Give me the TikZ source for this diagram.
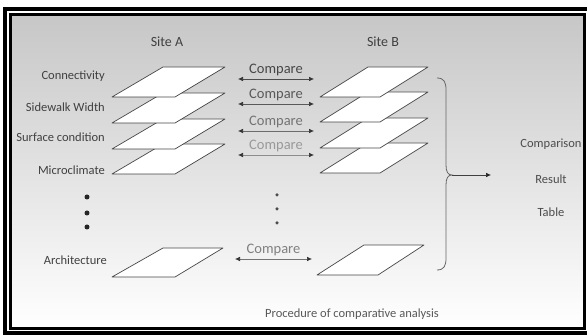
\documentclass[tikz,border=0pt]{standalone}
\usepackage{fontspec}
\setmainfont{Carlito}
\usetikzlibrary{arrows.meta}
\begin{document}
\begin{tikzpicture}[x=1pt,y=-1pt,
  layer/.style={draw=black!72, line width=0.7pt, fill=white, line join=round},
  lbl/.style={font=\fontsize{12.5}{14}\selectfont, text=black!75, anchor=east, inner sep=0pt},
  site/.style={font=\fontsize{14}{16}\selectfont, text=black!75, inner sep=0pt},
  cmp/.style={font=\fontsize{14.5}{16}\selectfont, inner sep=0pt},
  cmparrow/.style={{Latex[length=5pt,width=4.5pt,black!80]}-{Latex[length=5pt,width=4.5pt,black!80]}, line width=0.6pt},
  res/.style={font=\fontsize{12.5}{14}\selectfont, text=black!70, inner sep=0pt},
  bigdot/.style={circle, fill=black!85, inner sep=0pt, minimum size=5pt},
  smalldot/.style={circle, fill=black!70, inner sep=0pt, minimum size=3.5pt}]
\useasboundingbox (0,0) rectangle (587,336);
% background
\fill[white] (0,0) rectangle (587,336);
\shade[top color=black!22, bottom color=white] (12,16) rectangle (583,328);
% frame
\draw[line width=4pt] (600,9.5) -- (5,9.5) -- (5,333.5) -- (600,333.5);
\draw[line width=3pt] (10.5,14.5) rectangle (584,329);
% headings
\node[site] (siteA) at (167,42) {Site A};
\node[site] (siteB) at (383,42) {Site B};
% Site A layers
\foreach \b in {174,149,123,97}{
  \draw[layer] (112,\b) -- (175,\b) -- (225,{\b-30}) -- (163,{\b-30}) -- cycle;
}
% Site B layers
\foreach \b in {173,148,122,97}{
  \draw[layer] (320,\b) -- (380,\b) -- (428,{\b-30}) -- (368,{\b-30}) -- cycle;
}
% architecture layers
\draw[layer] (112,277) -- (175,277) -- (223,248) -- (163,248) -- cycle;
\draw[layer] (317,275) -- (378,275) -- (424,245) -- (364,245) -- cycle;
% labels
\node[lbl] (l1) at (105,76) {Connectivity};
\node[lbl] (l2) at (105,107) {Sidewalk Width};
\node[lbl] (l3) at (105,137) {Surface condition};
\node[lbl] (l4) at (105,170) {Microclimate};
\node[lbl] (l5) at (107,260) {Architecture};
% compare arrows
\coordinate (a1) at (238,79);  \coordinate (b1) at (314,79);
\coordinate (a2) at (238,104); \coordinate (b2) at (314,104);
\coordinate (a3) at (238,131); \coordinate (b3) at (314,131);
\coordinate (a4) at (238,155); \coordinate (b4) at (314,155);
\coordinate (a5) at (235,259); \coordinate (b5) at (312,259);
\draw[cmparrow, black!70] (a1) -- (b1) node[cmp, midway, above=2.5pt, text=black!72] (c1) {Compare};
\draw[cmparrow, black!65] (a2) -- (b2) node[cmp, midway, above=2.5pt, text=black!65] (c2) {Compare};
\draw[cmparrow, black!58] (a3) -- (b3) node[cmp, midway, above=2.5pt, text=black!55] (c3) {Compare};
\draw[cmparrow, black!45] (a4) -- (b4) node[cmp, midway, above=2.5pt, text=black!40] (c4) {Compare};
\draw[cmparrow, black!55] (a5) -- (b5) node[cmp, midway, above=2.5pt, text=black!50] (c5) {Compare};
% dots
\node[bigdot] (d1) at (87,197) {};
\node[bigdot] (d2) at (87,213) {};
\node[bigdot] (d3) at (87,227) {};
\node[smalldot] (e1) at (277,195) {};
\node[smalldot] (e2) at (277,209) {};
\node[smalldot] (e3) at (277,223) {};
% brace
\coordinate (btip) at (452,175);
\coordinate (rend) at (491,175);
\draw[black!60, line width=0.8pt] (437,78) .. controls (444,78) and (446,82) .. (446,90)
  -- (446,165) .. controls (446,172) and (448,175) .. (btip)
  .. controls (448,175) and (446,178) .. (446,185)
  -- (446,258) .. controls (446,266) and (444,270) .. (437,270);
\draw[black!75, line width=0.6pt, -{Latex[length=5pt,width=4.5pt,black!85]}] (btip) -- (rend);
% result texts
\node[res] (r1) at (551,144) {Comparison};
\node[res] (r2) at (551,179) {Result};
\node[res] (r3) at (551,212) {Table};
% caption
\node[res, text=black!65] (cap) at (352,314) {Procedure of comparative analysis};
\end{tikzpicture}
\end{document}
